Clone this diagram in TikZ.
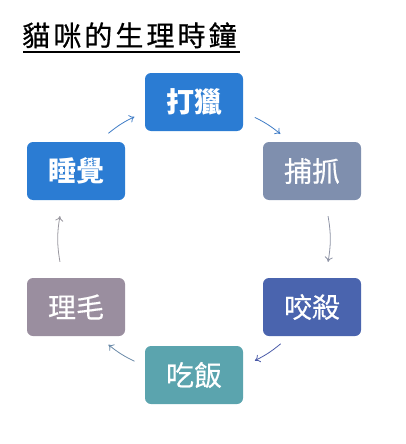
\documentclass[tikz,border=0pt]{standalone}
\usepackage{fontspec}
\newfontfamily\cjk{Noto Sans CJK TC}
\newfontfamily\cjkmid[FakeBold=0.35]{Noto Sans CJK TC}
\newfontfamily\cjktitle[FakeBold=0.6,LetterSpace=11]{Noto Sans CJK TC}
\usetikzlibrary{arrows.meta,calc}
\definecolor{cblue}{HTML}{2B7CD3}
\definecolor{cgray}{HTML}{7F8FAE}
\definecolor{cnavy}{HTML}{4A64AE}
\definecolor{cmauve}{HTML}{9A8E9F}
\definecolor{cteal}{HTML}{5BA4AE}
\definecolor{a1}{HTML}{3F7CC6}
\definecolor{a3}{HTML}{8E93A5}
\definecolor{a4}{HTML}{4A5AA8}
\definecolor{a5}{HTML}{6A8AA8}
\definecolor{a6}{HTML}{9A98A0}
\tikzset{
  box/.style={rounded corners=6pt, minimum width=98pt, minimum height=58pt,
    inner sep=0pt, text=white, font=\cjkmid\fontsize{28}{32}\selectfont},
  boldbox/.style={box, font=\cjk\bfseries\fontsize{28}{32}\selectfont},
  arr/.style={line width=0.8pt, -{To[length=5pt,width=8pt]}},
}
\begin{document}
\begin{tikzpicture}[x=1pt,y=-1pt]
\useasboundingbox (0,0) rectangle (405,444);
\node[anchor=base west, inner sep=0pt, font=\cjktitle\fontsize{28}{32}\selectfont] (title) at (22,46) {貓咪的生理時鐘};
\draw[line width=2pt] (23,52) -- (240,52);
\coordinate (c) at (194,239);
\node[boldbox, fill=cblue] (hunt) at (194,102) {打獵};
\node[box, fill=cgray] (catch) at (312,171) {捕抓};
\node[box, fill=cnavy] (bite) at (312,307) {咬殺};
\node[box, fill=cteal] (eat) at (194,375) {吃飯};
\node[box, fill=cmauve] (groom) at (76,307) {理毛};
\node[boldbox, fill=cblue] (sleep) at (76,171) {睡覺};
\def\R{136}
\foreach \n/\a in {s1/129,e1/116,s2/63.4,e2/50.6,s3/9.7,e3/-9.7,s4/-50.4,e4/-63.4,s5/-116,e5/-129,s6/189.7,e6/170.3}
  \coordinate (\n) at ($(c)+({\R*cos(\a)},{-\R*sin(\a)})$);
\draw[arr, a1] (s1) to[bend left=6.5] (e1);
\draw[arr, a1] (s2) to[bend left=6.5] (e2);
\draw[arr, a3] (s3) to[bend left=9.7] (e3);
\draw[arr, a4] (s4) to[bend left=6.5] (e4);
\draw[arr, a5] (s5) to[bend left=6.5] (e5);
\draw[arr, a6] (s6) to[bend left=9.7] (e6);
\end{tikzpicture}
\end{document}
